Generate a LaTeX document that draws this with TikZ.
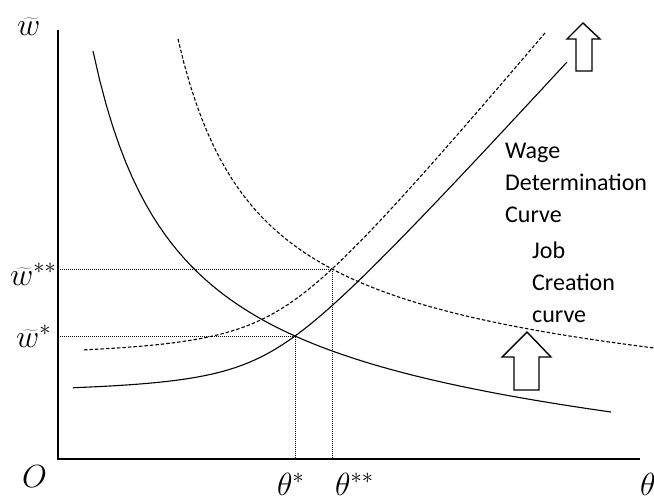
\RequirePackage{fix-cm}
\documentclass[tikz,border=0pt]{standalone}
\usepackage{fontspec}
\newfontfamily\labelfont{Carlito}
\usepackage{tikz}

\begin{document}
\begin{tikzpicture}[x=1pt, y=-1pt,
  axis/.style={line width=1.4pt},
  curve/.style={line width=1.1pt},
  shifted/.style={curve, dash pattern=on 3.5pt off 2pt},
  guide/.style={line width=0.8pt, dash pattern=on 1pt off 1pt},
  blockarr/.style={draw, line width=1.4pt, fill=white, line join=miter},
  sym/.style={inner sep=0pt, font=\fontsize{32}{32}\selectfont},
  lbl/.style={inner sep=0pt, align=left, font=\labelfont\fontsize{24}{32}\selectfont}]
  \useasboundingbox (0,0) rectangle (654,499);
  % axes
  \coordinate (top) at (58,30);
  \coordinate (O) at (58,459);
  \coordinate (right) at (640,459);
  \draw[axis] (top) -- (O) -- (right);
  % equilibria and guide lines
  \coordinate (eqA) at (295,336);
  \coordinate (eqB) at (332,269);
  \draw[guide] (eqA -| O) -- (eqA) -- (eqA |- O);
  \draw[guide] (eqB -| O) -- (eqB) -- (eqB |- O);
  % job creation curves
  \draw[curve] plot[domain=93:611, samples=80] (\x, {433.1+0.05295*\x-321.24*(100/(\x-10))});
  \draw[shifted] plot[domain=178:654, samples=80] (\x, {368.7+0.04087*\x-262.85*(100/(\x-100))});
  % wage determination curves
  \draw[curve] plot[domain=73:567, samples=80] (\x, {396-0.55*((\x-268.4)+100*sqrt(((\x-268.4)/100)^2+0.609))});
  \draw[shifted] plot[domain=84:545, samples=80] (\x, {360-0.6*((\x-278.8)+100*sqrt(((\x-278.8)/100)^2+0.6873))});
  % shift arrows
  \draw[blockarr] (583,23) -- (600,39) -- (592,39) -- (592,71) -- (576,71) -- (576,39) -- (567,39) -- cycle;
  \draw[blockarr] (527,332) -- (551,357) -- (539,357) -- (539,390) -- (514,390) -- (514,357) -- (502,357) -- cycle;
  % labels
  \node[sym, anchor=base west] (wAxis) at (17,35) {$\widetilde{w}$};
  \node[sym, anchor=base west] (wSS) at (10,285) {$\widetilde{w}^{**}$};
  \node[sym, anchor=base west] (wS) at (16,347) {$\widetilde{w}^{*}$};
  \node[sym, anchor=base west] (Olab) at (22,487) {$O$};
  \node[sym, anchor=base west] (thS) at (277,495) {$\theta^{*}$};
  \node[sym, anchor=base west] (thSS) at (335,495) {$\theta^{**}$};
  \node[sym, anchor=base west] (thAxis) at (640,495) {$\theta$};
  \node[lbl, anchor=base west] (wdLabel) at (505,222) {Wage\\Determination\\Curve};
  \node[lbl, anchor=base west] (jcLabel) at (532,322) {Job\\Creation\\curve};
\end{tikzpicture}
\end{document}
